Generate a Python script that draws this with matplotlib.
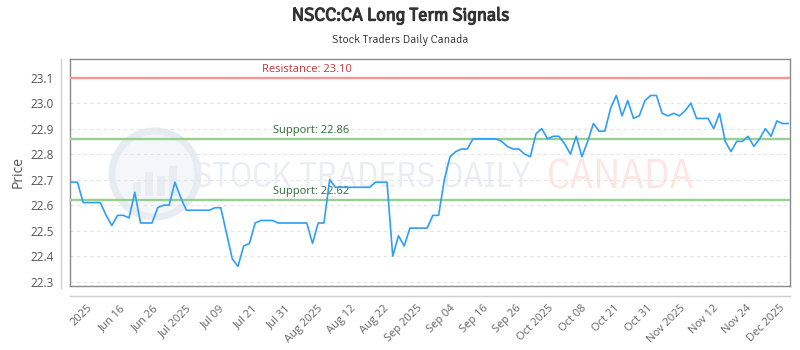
import matplotlib
matplotlib.use("Agg")
import numpy as np
import matplotlib.pyplot as plt
from matplotlib.lines import Line2D
from matplotlib.patches import Circle, Rectangle
import matplotlib.patheffects as pe
import warnings
warnings.filterwarnings("ignore")

title = "NSCC:CA Long Term Signals"
subtitle = "Stock Traders Daily Canada"
y_label = "Price"

prices = [
    22.69, 22.69, 22.61, 22.61, 22.61, 22.61, 22.56, 22.52, 22.56, 22.56,
    22.55, 22.65, 22.53, 22.53, 22.53, 22.59, 22.60, 22.60, 22.69, 22.63,
    22.58, 22.58, 22.58, 22.58, 22.58, 22.59, 22.59, 22.49, 22.39, 22.36,
    22.44, 22.45, 22.53, 22.54, 22.54, 22.54, 22.53, 22.53, 22.53, 22.53,
    22.53, 22.53, 22.45, 22.53, 22.53, 22.70, 22.67, 22.67, 22.67, 22.67,
    22.67, 22.67, 22.67, 22.69, 22.69, 22.69, 22.40, 22.48, 22.44, 22.51,
    22.51, 22.51, 22.51, 22.56, 22.56, 22.70, 22.79, 22.81, 22.82, 22.82,
    22.86, 22.86, 22.86, 22.86, 22.86, 22.85, 22.83, 22.82, 22.82, 22.80,
    22.79, 22.88, 22.90, 22.86, 22.87, 22.87, 22.84, 22.80, 22.87, 22.79,
    22.85, 22.92, 22.89, 22.89, 22.98, 23.03, 22.95, 23.01, 22.94, 22.95,
    23.01, 23.03, 23.03, 22.96, 22.95, 22.96, 22.95, 22.97, 23.00, 22.94,
    22.94, 22.94, 22.90, 22.96, 22.85, 22.81, 22.85, 22.85, 22.87, 22.83,
    22.86, 22.90, 22.87, 22.93, 22.92, 22.92,
]

tick_labels = ["2025", "Jun 16", "Jun 26", "Jul 2025", "Jul 09", "Jul 21", "Jul 31",
               "Aug 2025", "Aug 12", "Aug 22", "Sep 2025", "Sep 04", "Sep 16", "Sep 26",
               "Oct 2025", "Oct 08", "Oct 21", "Oct 31", "Nov 2025", "Nov 12", "Nov 24",
               "Dec 2025"]

resistance = 23.10
supports = [22.86, 22.62]
y_ticks = [22.3, 22.4, 22.5, 22.6, 22.7, 22.8, 22.9, 23.0, 23.1]

TITLE_FONT = ["Signika", "Open Sans Condensed", "DejaVu Sans"]
TICK_FONT = ["Open Sans", "DejaVu Sans"]
WM_FONT = ["IBM Plex Sans Condensed", "Open Sans Condensed", "DejaVu Sans"]

W, H = 800, 350
fig = plt.figure(figsize=(W / 100, H / 100), dpi=100)
L, R, T, B = 70, 790, 59, 286
ax = fig.add_axes([L / W, 1 - B / H, (R - L) / W, (B - T) / H])
ax.set_zorder(1)
ax.set_facecolor("none")

n = len(prices)
x = np.arange(n)

# watermark (behind the axes)
cx, cy = 1.55, (H - 174) / 100
fig.add_artist(Circle((cx, cy), 0.43, transform=fig.dpi_scale_trans,
                      facecolor="#f4f6fa", edgecolor="#e7ecf3", lw=5, zorder=-2))
for dx, hgt in [(-0.18, 0.14), (-0.06, 0.24), (0.06, 0.20), (0.18, 0.30)]:
    fig.add_artist(Rectangle((cx + dx - 0.04, cy - 0.22), 0.08, hgt, transform=fig.dpi_scale_trans,
                             facecolor="#e9edf3", edgecolor="none", zorder=-1.5))
fig.text(362 / W, 1 - 177 / H, "STOCK TRADERS DAILY", ha="center", va="center",
         fontsize=25, color="#eaeef4", family=WM_FONT, fontweight="normal", zorder=-1)
fig.text(621 / W, 1 - 177 / H, "CANADA", ha="center", va="center",
         fontsize=30, color="#fde6e3", family=WM_FONT, fontweight="normal", zorder=-1)

ax.plot(x, prices, color="#2f9ef5", lw=1.2, zorder=5)

ax.axhline(resistance, color="#f39893", lw=1.7, zorder=4)
for s in supports:
    ax.axhline(s, color="#97cf90", lw=1.7, zorder=4)

ax.text(0.329, resistance + 0.012, f"Resistance: {resistance:.2f}", transform=ax.get_yaxis_transform(),
        ha="center", va="bottom", color="#c0393b", fontsize=8, family=TICK_FONT, zorder=6)
for s in supports:
    ax.text(0.335, s + 0.012, f"Support: {s:.2f}", transform=ax.get_yaxis_transform(),
            ha="center", va="bottom", color="#2e6e35", fontsize=8, family=TICK_FONT, zorder=3)

ax.set_xlim(-0.3, n - 1 + 0.3)
ax.set_ylim(22.283, 23.173)
ax.set_yticks(y_ticks)
ax.set_yticklabels([f"{v:.1f}" for v in y_ticks], family=TICK_FONT, fontsize=8.5, color="#555555")
ax.yaxis.grid(True, color="#e4e4e4", ls=(0, (3, 3)), lw=0.8)
ax.xaxis.grid(False)
ax.tick_params(axis="y", length=0, pad=12)

tick_pos = np.linspace(2.7, n - 2.6, len(tick_labels))
ax.set_xticks(tick_pos)
ax.set_xticklabels(tick_labels, rotation=45, ha="right", va="top", rotation_mode="anchor",
                   family=TICK_FONT, fontsize=8, color="#666666")
ax.tick_params(axis="x", length=0, pad=12)

for sp in ax.spines.values():
    sp.set_color("#8a8a8a")
    sp.set_linewidth(1.0)

ax.set_ylabel(y_label, family=TICK_FONT, fontsize=10, color="#555555", labelpad=3)

# offset axis lines
fig.add_artist(Line2D([61 / W, 61 / W], [1 - 59 / H, 1 - 288 / H], color="#cfcfcf", lw=1))
fig.add_artist(Line2D([70 / W, 790 / W], [1 - 296 / H, 1 - 296 / H], color="#cfcfcf", lw=1))

fig.text(0.5, 1 - 16 / H, title, ha="center", va="center", fontsize=13.2, fontweight="bold",
         color="#333333", family=TITLE_FONT,
         path_effects=[pe.withStroke(linewidth=0.9, foreground="#333333")])
fig.text(0.5, 1 - 40 / H, subtitle, ha="center", va="center", fontsize=8.5,
         color="#333333", family=TITLE_FONT)

fig.savefig("out.png", dpi=100)
